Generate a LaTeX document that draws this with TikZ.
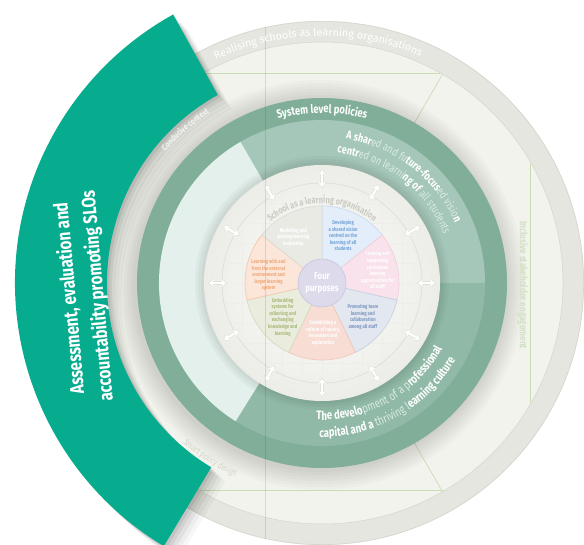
\documentclass[tikz,border=0pt]{standalone}
\usepackage{fontspec}
\setmainfont{Fira Sans}
\newfontfamily\cond[FakeStretch=0.78]{Fira Sans}
\usetikzlibrary{decorations.text,arrows.meta}
\definecolor{ringgray}{HTML}{E5E6E0}
\definecolor{ringedge}{HTML}{D4D6CC}
\definecolor{annulus}{HTML}{F1F3EC}
\definecolor{linegreen}{HTML}{CADCB4}
\definecolor{darkring}{HTML}{80AE99}
\definecolor{bandA}{HTML}{A5C7B9}
\definecolor{bandB}{HTML}{90BAA7}
\definecolor{bandC}{HTML}{E3F0EC}
\definecolor{innerout}{HTML}{ECEDE7}
\definecolor{gridc}{HTML}{EEEEE9}
\definecolor{arrowgray}{HTML}{E0E0DA}
\definecolor{tealA}{HTML}{07AC8F}
\definecolor{ltxt}{HTML}{DAEBE3}
\definecolor{segBlue}{HTML}{E3EEFA}\definecolor{edBlue}{HTML}{C9DCF2}\definecolor{txBlue}{HTML}{74A3D6}
\definecolor{segPink}{HTML}{F9E2EB}\definecolor{edPink}{HTML}{F2CFDC}
\definecolor{segBG}{HTML}{E3E7F0}\definecolor{edBG}{HTML}{C8D1E2}\definecolor{txBG}{HTML}{7E98C0}
\definecolor{segSal}{HTML}{F8DDD5}\definecolor{edSal}{HTML}{F0C8BC}
\definecolor{segOl}{HTML}{EAEDDD}\definecolor{edOl}{HTML}{D5DBBE}\definecolor{txOl}{HTML}{A9B97A}
\definecolor{segOr}{HTML}{FCE6D9}\definecolor{edOr}{HTML}{F4C9AE}\definecolor{txOr}{HTML}{F0A878}
\definecolor{segGr}{HTML}{EAEAE5}\definecolor{edGr}{HTML}{DCDCD5}
\definecolor{centreC}{HTML}{DDDAEB}\definecolor{edCentre}{HTML}{CEC9E2}
\definecolor{ringtxt}{HTML}{CBCBC3}
\definecolor{outtxt}{HTML}{D3E0C6}
\definecolor{softtxt}{HTML}{F2F2EE}
\newcommand\fmtB{\cond\bfseries\fontsize{11.5}{13}\selectfont\color{white}}
\newcommand\fmtL{\cond\mdseries\fontsize{11.5}{13}\selectfont\color{ltxt}}
\newcommand\fmtBB{\cond\bfseries\fontsize{12.3}{14}\selectfont\color{white}}
\newcommand\fmtLB{\cond\mdseries\fontsize{12.3}{14}\selectfont\color{ltxt}}
\tikzset{
  segtxt/.style={font=\cond\bfseries\fontsize{5.4}{6.6}\selectfont, align=center, inner sep=0pt},
  tealtxt/.style={text=white, font=\cond\bfseries\fontsize{19.5}{28}\selectfont, align=center, inner sep=0pt},
  seg/.style={line width=0.7pt},
  arrowbg/.style={draw=arrowgray, line width=3.4pt, {Stealth[length=6pt,width=9pt]}-{Stealth[length=6pt,width=9pt]}},
  arrowfg/.style={draw=white, line width=2.2pt, {Stealth[length=5pt,width=7.5pt]}-{Stealth[length=5pt,width=7.5pt]}}
}
\begin{document}
\begin{tikzpicture}[x=1bp,y=1bp]
\useasboundingbox (-322,-262) rectangle (262,283);
\fill[white] (-322,-262) rectangle (262,283);
% outer gray ring and light annulus
\fill[ringgray] (0,0) circle[radius=262];
\draw[ringedge, line width=0.6pt] (0,0) circle[radius=261.6];
\fill[annulus] (0,0) circle[radius=241];
\draw[ringedge, line width=0.5pt] (0,0) circle[radius=241];
% faint construction lines in annulus
\begin{scope}
  \clip (0,0) circle[radius=240.5];
  \draw[linegreen, line width=0.7pt] (-240,210) -- (240,210);
  \draw[linegreen, line width=0.7pt] (-240,-207) -- (240,-207);
  \draw[linegreen, line width=0.7pt] (208,-240) -- (208,240);
  \draw[linegreen, line width=0.7pt] (60:185) -- (60:241);
  \draw[linegreen, line width=0.7pt] (-60:185) -- (-60:241);
\end{scope}
% shadow of the policy ring
\foreach \r in {205,202,...,186} \fill[black, opacity=0.02] (-2,-2) circle[radius=\r];
% system level ring and band
\fill[darkring] (0,0) circle[radius=185];
\fill[bandA] (0,0) -- (0:163) arc[start angle=0, end angle=120, radius=163] -- cycle;
\fill[bandB] (0,0) -- (-122:163) arc[start angle=-122, end angle=0, radius=163] -- cycle;
\fill[bandC] (0,0) -- (120:163) arc[start angle=120, end angle=238, radius=163] -- cycle;
% inner school circle
\foreach \r in {127,124,...,118} \fill[black, opacity=0.03] (0,0) circle[radius=\r];
\shade[inner color=white, outer color=innerout] (0,0) circle[radius=118];
\begin{scope}
  \clip (0,0) circle[radius=117];
  \draw[gridc, line width=0.5pt, step=20bp] (-130,-130) grid (130,130);
\end{scope}
\draw[gridc!70!black!20!gridc, line width=0.8pt] (0,0) circle[radius=100];
\foreach \a in {0,30,...,330} {
  \draw[arrowbg] (\a:95) -- (\a:114);
  \draw[arrowfg] (\a:96) -- (\a:113);
}
\path[decorate, decoration={text along path, text align=center,
  text={|\cond\bfseries\fontsize{9.5}{10}\selectfont\color{ringtxt}|School as a learning organisation}}]
  (150:80) arc[start angle=150, end angle=30, radius=80];
% pie segments
\fill[segBlue, draw=edBlue, seg] (0,0) -- (90:77) arc[start angle=90, end angle=38.57, radius=77] -- cycle;
\fill[segPink, draw=edPink, seg] (0,0) -- (38.57:77) arc[start angle=38.57, end angle=-12.86, radius=77] -- cycle;
\fill[segBG, draw=edBG, seg] (0,0) -- (-12.86:77) arc[start angle=-12.86, end angle=-64.29, radius=77] -- cycle;
\fill[segSal, draw=edSal, seg] (0,0) -- (-64.29:77) arc[start angle=-64.29, end angle=-115.71, radius=77] -- cycle;
\fill[segOl, draw=edOl, seg] (0,0) -- (-115.71:77) arc[start angle=-115.71, end angle=-167.14, radius=77] -- cycle;
\fill[segOr, draw=edOr, seg] (0,0) -- (192.86:77) arc[start angle=192.86, end angle=141.43, radius=77] -- cycle;
\fill[segGr, draw=edGr, seg] (0,0) -- (141.43:77) arc[start angle=141.43, end angle=90, radius=77] -- cycle;
\node[segtxt, text=txBlue] (s1) at (66:52) {Developing\\a shared vision\\centred on the\\learning of all\\students};
\node[segtxt, text=white] (s2) at (13:57) {Creating and\\supporting\\continuous\\learning\\opportunities for\\all staff};
\node[segtxt, text=txBG] (s3) at (-39.5:53) {Promoting team\\learning and\\collaboration\\among all staff};
\node[segtxt, text=white] (s4) at (-89:50) {Establishing a\\culture of inquiry,\\innovation and\\exploration};
\node[segtxt, text=txOl] (s5) at (-139:52) {Embedding\\systems for\\collecting and\\exchanging\\knowledge and\\learning};
\node[segtxt, text=txOr] (s6) at (171.5:54) {Learning with and\\from the external\\environment and\\larger learning\\system};
\node[segtxt, text=white] (s7) at (122:54) {Modelling and\\growing learning\\leadership};
\fill[centreC, draw=edCentre, line width=0.8pt] (0,0) circle[radius=24];
\node[text=white, font=\cond\bfseries\fontsize{10}{12}\selectfont, align=center, inner sep=0pt] (fp) at (0,0) {Four\\purposes};
% texts on the policy ring and band
\path[decorate, decoration={text along path, text align=center,
  text={|\cond\bfseries\fontsize{12}{13}\selectfont\color{white}|System level policies}}]
  (140:170) arc[start angle=140, end angle=40, radius=170];
\path[decorate, decoration={text along path, text align=center,
  text={|\fmtB|A shar|\fmtL|ed and fu|\fmtB|ture-focus|\fmtL|ed visio|\fmtB|n}}]
  (112:146) arc[start angle=112, end angle=-7, radius=146];
\path[decorate, decoration={text along path, text align=center,
  text={|\fmtB|centr|\fmtL|ed on learni|\fmtB|ng of |\fmtL|all students}}]
  (112:131) arc[start angle=112, end angle=-7, radius=131];
\path[decorate, decoration={text along path, text align=center,
  text={|\fmtBB|The develo|\fmtLB|pment of a p|\fmtBB|rofessional}}]
  (-120:137) arc[start angle=-120, end angle=-1, radius=137];
\path[decorate, decoration={text along path, text align=center,
  text={|\fmtBB|capital and a |\fmtLB|thriving l|\fmtBB|earning culture}}]
  (-120:154) arc[start angle=-120, end angle=-1, radius=154];
% faint vertical line across the model
\begin{scope}
  \clip (0,0) circle[radius=262];
  \draw[green!40!black, opacity=0.14, line width=0.7pt] (-57,-262) -- (-57,262);
\end{scope}
% outer ring texts
\path[decorate, decoration={text along path, text align=center,
  text={|\fontsize{10.8}{12}\selectfont\color{white}|Realising schools as learning organisations}}]
  (135:247) arc[start angle=135, end angle=47, radius=247];
\node[rotate=-90, text=outtxt, font=\cond\bfseries\fontsize{10.5}{11}\selectfont, inner sep=0pt] (ise) at (201,-2) {Inclusive stakeholder engagement};
% teal assessment arc with shadow
\foreach \d/\o in {14/0.03,11/0.04,8/0.05,5/0.06,2.5/0.07}
  \fill[black, opacity=\o, shift={(\d,-\d)}] (119:215) arc[start angle=119, end angle=239, radius=215] -- (239:307) arc[start angle=239, end angle=119, radius=307] -- cycle;
\path[decorate, decoration={text along path, text align=center,
  text={|\cond\bfseries\fontsize{9}{9}\selectfont\color{softtxt}|Conducive context}}]
  (156:204) arc[start angle=156, end angle=107.4, radius=204];
\path[decorate, decoration={text along path, text align=center,
  text={|\cond\fontsize{9}{9}\selectfont\color{ringedge}|Smart policy design}}]
  (219:212) arc[start angle=219, end angle=256, radius=212];
\fill[tealA] (119:215) arc[start angle=119, end angle=239, radius=215] -- (239:307) arc[start angle=239, end angle=119, radius=307] -- cycle;
\node[tealtxt, rotate=95] (tt) at (-238,-14) {Assessment, evaluation and\\accountability promoting SLOs};
\end{tikzpicture}
\end{document}
